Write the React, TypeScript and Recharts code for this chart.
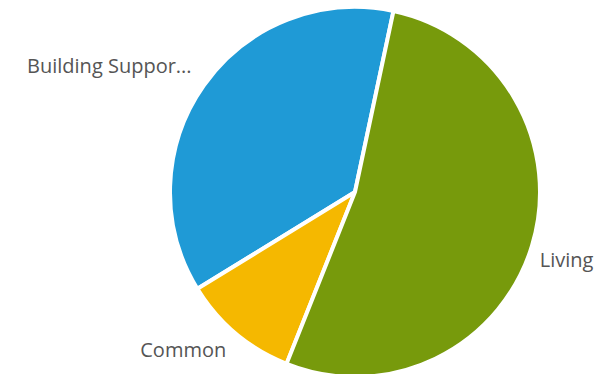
import { Cell, Pie, PieChart } from "recharts";

const categories = ["Building Support", "Common", "Living"];
const shares = [37.1, 10.2, 52.7];
const colors = ["#1f9ad6", "#f5b800", "#779a0c"];

const data = categories.map((name, i) => ({ name, value: shares[i] }));

const RADIAN = Math.PI / 180;

function shorten(text: string) {
  return text.length > 15 ? text.slice(0, 15) + "..." : text;
}

// labels sit just outside the rim, no connector lines
function renderLabel(props: any) {
  const { cx, cy, midAngle, outerRadius, name } = props;
  const cos = Math.cos(-midAngle * RADIAN);
  const sin = Math.sin(-midAngle * RADIAN);
  const r = outerRadius + (cos >= 0 ? 8 : 15);
  const x = cx + r * cos;
  const y = cy + r * sin + (sin > 0 ? 16 - 15 * sin : -11);
  return (
    <text
      x={x}
      y={y}
      fill="#555"
      fontFamily="'Open Sans', sans-serif"
      fontSize={20}
      textAnchor={cos >= 0 ? "start" : "end"}
      dominantBaseline="central"
    >
      {shorten(name)}
    </text>
  );
}

export default function App() {
  return (
    <div style={{ position: "absolute", left: 0, top: 0, width: 600, height: 374, background: "#fff" }}>
      <PieChart width={600} height={374}>
        <Pie
          data={data}
          dataKey="value"
          nameKey="name"
          cx={350}
          cy={187}
          outerRadius={185}
          startAngle={78}
          endAngle={438}
          stroke="#fff"
          strokeWidth={4}
          label={renderLabel}
          labelLine={false}
          isAnimationActive={false}
        >
          {data.map((d, i) => (
            <Cell key={d.name} fill={colors[i]} />
          ))}
        </Pie>
      </PieChart>
    </div>
  );
}
